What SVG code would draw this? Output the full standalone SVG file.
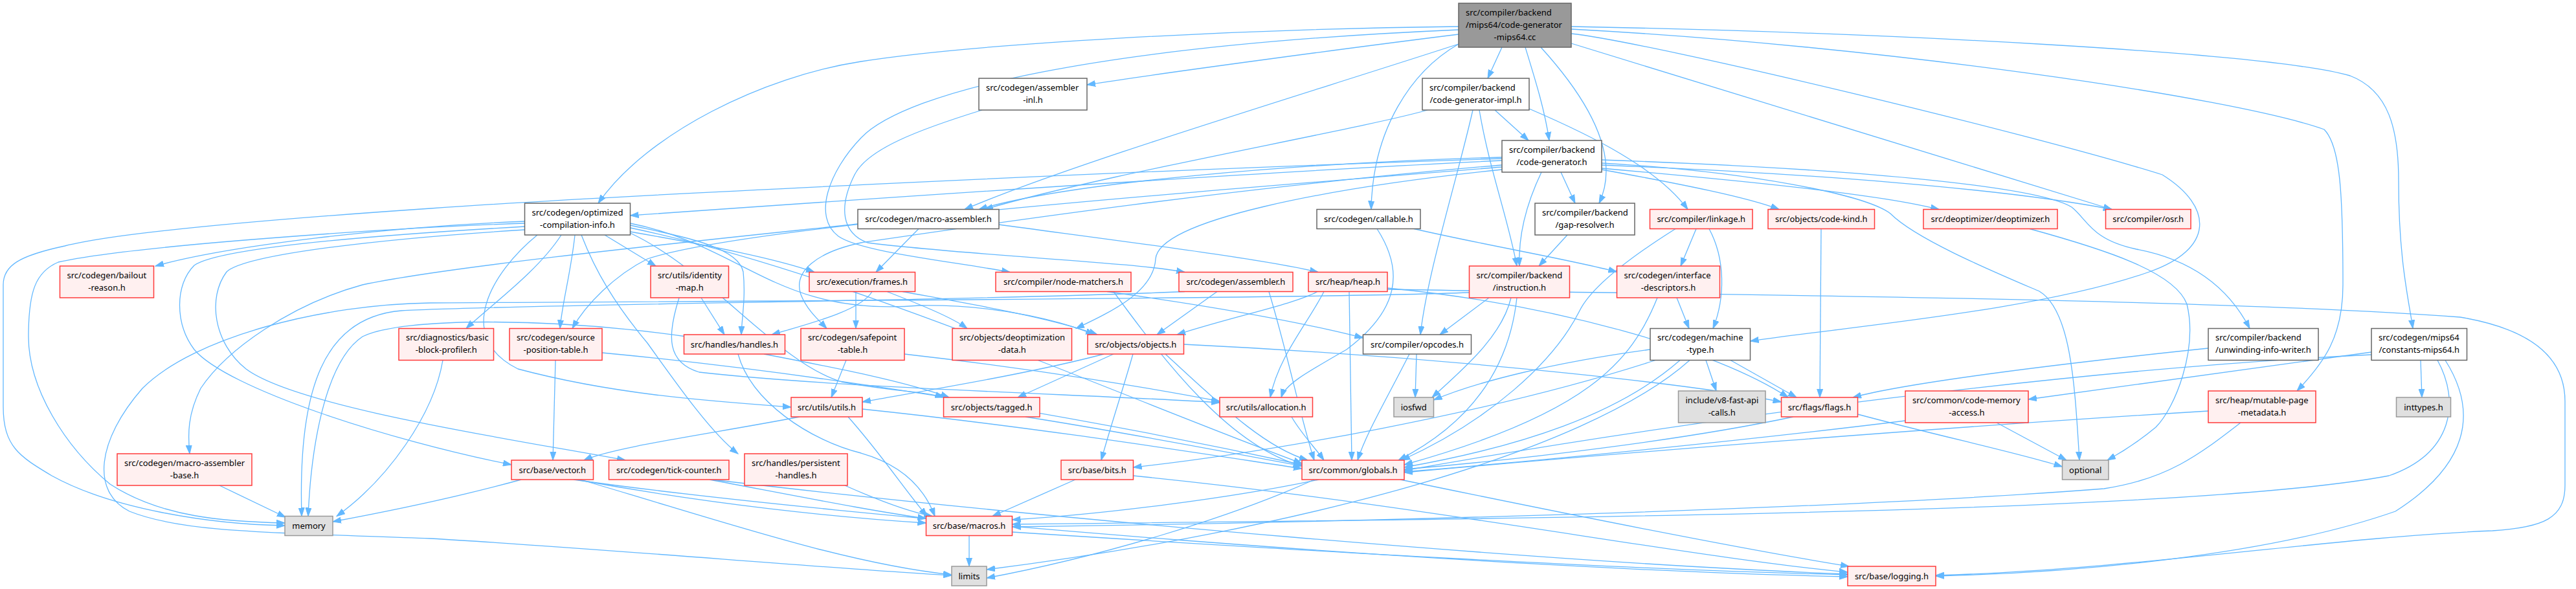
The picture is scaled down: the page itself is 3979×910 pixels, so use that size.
<svg xmlns="http://www.w3.org/2000/svg" width="3979" height="910" viewBox="0 0 3979 910">
<defs>
<marker id="a" markerWidth="14" markerHeight="10" refX="13" refY="5" orient="auto" markerUnits="userSpaceOnUse"><path d="M0,0.5 L13,5 L0,9.5 z" fill="#63B8FF" stroke="#63B8FF" stroke-width="1"/></marker>
<style>
.e path{fill:none;stroke:#63B8FF;stroke-width:1.3;marker-end:url(#a)}
.n rect{stroke-width:1.5}
.w rect{fill:#FFFFFF;stroke:#666666}
.r rect{fill:#FFF0F0;stroke:#FF3B3B}
.g rect{fill:#E0E0E0;stroke:#999999}
.m rect{fill:#999999;stroke:#666666}
text{font-family:"Noto Sans","Liberation Sans",sans-serif;font-size:13px;fill:#000000}
.c{text-anchor:middle}
</style>
</defs>
<rect width="3979" height="910" fill="#FFFFFF"/>
<g id="edges" class="e">
<path d="M2253,53 C2100,72 1800,112 1679,131"/>
<path d="M2253,41 C1900,45 1500,68 1330,95 C1180,118 1000,205 924,314"/>
<path d="M2253,46 C1700,70 1400,140 1330,213 C1280,265 1255,335 1295,365 C1330,390 1480,405 1560,420.5"/>
<path d="M2253,68 C2000,150 1650,255 1490,323.5"/>
<path d="M2320,73 L2298,121"/>
<path d="M2356,73 C2372,125 2386,170 2393,217"/>
<path d="M2380,73 C2450,150 2505,240 2470,314"/>
<path d="M2253,68 C2180,110 2120,200 2118,323.5"/>
<path d="M2427,41 C2900,50 3500,80 3630,117 C3690,140 3705,200 3705,280 C3705,400 3720,460 3727,507.5"/>
<path d="M2427,45 C2900,70 3450,150 3590,200 C3615,225 3619,300 3619,440 C3619,520 3590,560 3548,604"/>
<path d="M2427,67 L3262,323.5"/>
<path d="M2427,52 C2550,65 3150,210 3340,270 C3420,320 3420,385 3320,420 C3150,480 2850,505 2703.5,527"/>
<path d="M2205,170 C2100,200 1700,270 1521,323.5"/>
<path d="M2309,170 L2361,217"/>
<path d="M2285,170 C2300,260 2330,340 2343,411"/>
<path d="M2275,170 C2250,280 2205,420 2194,517"/>
<path d="M2362,168 C2460,210 2560,260 2607,323.5"/>
<path d="M2411,266 L2433,314"/>
<path d="M2381,266 C2360,310 2345,360 2347,411"/>
<path d="M2320,243 C2000,252 1650,282 1512,323.5"/>
<path d="M2320,248 C1900,268 1300,310 973.5,333"/>
<path d="M2320,245 C1700,265 900,305 665,322 C400,340 180,360 100,380 C30,395 5,410 5,440 L5,628 C5,690 30,705 80,735 C170,785 320,810 440,812"/>
<path d="M2320,255 C1900,290 1500,350 1330,375 C1260,390 1225,420 1237,455 C1247,480 1265,495 1277,507.5"/>
<path d="M2320,258 C1800,300 1150,350 1000,400 C950,425 905,470 884,507.5"/>
<path d="M2474,247 C2900,262 3150,290 3200,320 C3225,340 3230,370 3300,385 C3380,400 3440,440 3475,507.5"/>
<path d="M2474,255 C2800,268 3100,292 3262,323.5"/>
<path d="M2474,260 C2700,280 2900,300 2995,323.5"/>
<path d="M2474,262 C2600,285 2700,305 2748,323.5"/>
<path d="M2474,252 C2700,265 2880,300 2920,330 C2960,370 3080,420 3150,450 C3200,480 3205,600 3212,711"/>
<path d="M2320,262 C2050,290 1790,340 1785,400 C1782,450 1720,480 1662,507.5"/>
<path d="M810.5,342 C600,350 350,380 240,411"/>
<path d="M810.5,345 C600,352 200,380 90,405 C55,420 44,450 44,520 C44,600 100,690 170,748 C250,800 350,806 440,808"/>
<path d="M810.5,350 C600,362 340,382 300,410 C270,440 270,500 300,540 C350,600 600,680 790,718"/>
<path d="M810.5,355 C600,368 380,392 350,420 C320,460 330,530 380,570 C460,630 800,680 966,711"/>
<path d="M888,363 C882,420 868,470 865,507.5"/>
<path d="M867,363 C830,420 760,470 720,507.5"/>
<path d="M973.5,352 C1300,420 1700,600 2011,716"/>
<path d="M973.5,358 C1100,380 1200,400 1258,420.5"/>
<path d="M934,363 L1013,411"/>
<path d="M973.5,348 C1050,365 1140,380 1148,420 C1152,460 1146,490 1145,517"/>
<path d="M898,363 C920,420 950,470 1000,530 C1050,600 1100,670 1140,701"/>
<path d="M973.5,345 C1150,380 1200,490 1420,472 C1550,470 1650,500 1690,517"/>
<path d="M973.5,360 C1100,420 1200,560 1300,590 C1380,605 1430,605 1457.5,614"/>
<path d="M830,363 C760,420 700,520 800,570 C950,610 1100,620 1222,629"/>
<path d="M1325,346 C1100,370 700,410 560,440 C450,470 350,540 310,600 C290,640 290,670 293,701"/>
<path d="M1419,353.5 L1353,420.5"/>
<path d="M1543,347 C1750,375 1950,400 2036,420.5"/>
<path d="M2184,353.5 C2300,380 2420,400 2497.5,420"/>
<path d="M2127,353.5 C2170,420 2160,480 2080,540 C2010,580 1985,595 1979,614"/>
<path d="M2421,363 L2377,411"/>
<path d="M2620,353.5 L2596,411"/>
<path d="M2640,353.5 C2665,400 2665,460 2646,507.5"/>
<path d="M2588,353.5 C2530,390 2460,440 2440,480 C2400,560 2300,650 2165,711"/>
<path d="M2590,460 L2609,507.5"/>
<path d="M2560,460 C2520,560 2450,640 2169,718"/>
<path d="M2813,353.5 L2811,614"/>
<path d="M3135,353.5 C3250,385 3360,420 3378,470 C3395,540 3360,630 3330,660 C3300,685 3275,700 3255,711"/>
<path d="M2035,450.5 C2000,470 1900,490 1818,517"/>
<path d="M2045,450.5 C2020,500 1975,550 1962,614"/>
<path d="M2084,450.5 L2088,711"/>
<path d="M2143,445 C2400,470 2650,540 2762,614"/>
<path d="M2143,447 C2600,455 3400,460 3800,490 C3920,510 3962,560 3962,620 L3962,750 C3962,800 3930,815 3850,820 C3600,830 3300,880 2990,889"/>
<path d="M2300,460 L2224,517"/>
<path d="M2334,460 C2320,520 2260,570 2212,614"/>
<path d="M2343,460 C2330,580 2260,660 2160,711"/>
<path d="M2269.5,452 C2000,462 1000,466 665,468 C500,470 300,520 220,600 C150,680 140,760 200,790 C280,822 400,822 665,832 C900,845 1300,880 1470,889"/>
<path d="M1880,450.5 L1787,517"/>
<path d="M1960,450.5 C1990,550 2010,650 2030,711"/>
<path d="M1710,450.5 C1850,470 2000,495 2105.5,522"/>
<path d="M1720,450.5 C1800,560 1900,690 2011,720"/>
<path d="M1322,450.5 L1322,507.5"/>
<path d="M1347,450.5 C1330,480 1250,500 1192,517"/>
<path d="M1370,450.5 C1420,470 1470,490 1494,507.5"/>
<path d="M1394,450.5 C1500,470 1620,490 1695,517"/>
<path d="M1083,460 L1119,517"/>
<path d="M1049,460 C1030,520 1030,560 1080,575 C1300,600 1700,610 1884,622"/>
<path d="M684,556.5 C670,640 600,740 520,797.5"/>
<path d="M858,556.5 L854,711"/>
<path d="M930,545 C1300,580 1700,650 2011,718"/>
<path d="M1180,547 C1300,570 1400,590 1466,614"/>
<path d="M1140,547 C1160,620 1250,680 1330,700 C1400,720 1430,760 1444,797.5"/>
<path d="M1307,556.5 L1284,614"/>
<path d="M1397,547 C1600,570 1780,600 1884,620"/>
<path d="M1720,547 L1572,614"/>
<path d="M1750,547 C1735,600 1715,660 1701,711"/>
<path d="M1705,547 C1600,575 1450,600 1332,621"/>
<path d="M1828.5,532 C2200,550 2600,590 2751.5,621"/>
<path d="M1800,547 C1880,620 1950,690 2020,711"/>
<path d="M2188,547 L2186,614"/>
<path d="M2177,547 C2140,620 2110,670 2097,711"/>
<path d="M2549,540 C2400,560 2280,590 2214.5,618"/>
<path d="M2635,556.5 L2651,604"/>
<path d="M2673,556.5 L2775,614"/>
<path d="M2595,556.5 C2500,640 2350,690 2169,722"/>
<path d="M2557,556.5 C2300,640 1950,700 1750.5,722"/>
<path d="M2610,556.5 C2450,700 2000,820 1524,880"/>
<path d="M3411,538 C3200,560 2950,590 2862,614"/>
<path d="M3663,544 C3450,575 3250,600 3133,617"/>
<path d="M3739,556.5 L3741,614"/>
<path d="M3663,548 C3200,570 2600,650 2169,727"/>
<path d="M3765,556.5 C3800,620 3790,700 3690,735 C3400,790 2500,800 1563.5,810"/>
<path d="M3777,556.5 C3830,640 3810,720 3700,790 C3500,860 3200,885 2990,890"/>
<path d="M3411,635 C3000,660 2500,700 2169,730"/>
<path d="M3461,653 C3400,700 3350,740 3250,755 C2800,790 2000,808 1563.5,814"/>
<path d="M1235,644 C1100,670 950,690 902,711"/>
<path d="M1310,644 C1360,700 1400,760 1432,797.5"/>
<path d="M1332,632 C1600,660 1850,700 2011,724"/>
<path d="M1584,644 C1750,670 1900,700 2011,720"/>
<path d="M1995,644 C2010,670 2030,690 2045,711"/>
<path d="M2869.5,640 C3000,675 3120,700 3185.5,721"/>
<path d="M2770,644 C2600,680 2350,710 2169,725"/>
<path d="M3084,653 L3192,711"/>
<path d="M2943,650 C2700,680 2400,710 2169,729"/>
<path d="M339,750 L441,799"/>
<path d="M805,741 C700,770 600,790 514,806"/>
<path d="M891,741 C1100,780 1300,800 1430.5,808"/>
<path d="M896,741 C1100,800 1300,870 1470,888"/>
<path d="M886,741 C1300,800 2300,880 2854,891"/>
<path d="M1096,741 C1250,770 1350,790 1430.5,801"/>
<path d="M1100,741 C1600,800 2400,870 2854,887"/>
<path d="M1305,750 C1350,770 1400,790 1440,797.5"/>
<path d="M1661,741 L1533,797.5"/>
<path d="M1750.5,735 C2200,780 2600,860 2854,884"/>
<path d="M2037,741 C1900,770 1700,795 1563.5,803"/>
<path d="M2163,741 C2400,790 2700,850 2856,875"/>
<path d="M2030,741 C1900,800 1700,860 1524,893"/>
<path d="M1497,827.5 L1497,875"/>
<path d="M1563.5,822 C2000,850 2500,880 2854,888"/>
<path d="M1517,170 C1420,200 1340,230 1320,270 C1295,320 1300,360 1340,375 C1500,395 1750,405 1830,420.5"/>
<path d="M1830,450.5 C1500,465 800,470 620,480 C500,490 460,600 466,797.5"/>
<path d="M1060,520 C850,490 620,490 560,520 C500,560 480,700 476,797.5"/>
</g>
<g id="main" class="n m"><rect x="2253" y="5" width="174" height="68"/><text x="2264" y="24">src/compiler/backend</text><text x="2264" y="43">/mips64/code-generator</text><text class="c" x="2340" y="62">-mips64.cc</text></g>
<g id="asminl" class="n w"><rect x="1512" y="121" width="167" height="49"/><text x="1523" y="139.5">src/codegen/assembler</text><text class="c" x="1595.5" y="158.5">-inl.h</text></g>
<g id="impl" class="n w"><rect x="2197" y="121" width="165" height="49"/><text x="2208" y="139.5">src/compiler/backend</text><text class="c" x="2279.5" y="158.5">/code-generator-impl.h</text></g>
<g id="cg" class="n w"><rect x="2320" y="217" width="154" height="49"/><text x="2331" y="235.5">src/compiler/backend</text><text class="c" x="2397" y="254.5">/code-generator.h</text></g>
<g id="oci" class="n w"><rect x="810.5" y="314" width="163" height="49"/><text x="821.5" y="332.5">src/codegen/optimized</text><text class="c" x="892" y="351.5">-compilation-info.h</text></g>
<g id="masm" class="n w"><rect x="1325" y="323.5" width="218" height="30"/><text class="c" x="1434" y="343">src/codegen/macro-assembler.h</text></g>
<g id="callable" class="n w"><rect x="2034" y="323.5" width="160" height="30"/><text class="c" x="2114" y="343">src/codegen/callable.h</text></g>
<g id="gap" class="n w"><rect x="2371" y="314" width="154" height="49"/><text x="2382" y="332.5">src/compiler/backend</text><text class="c" x="2448" y="351.5">/gap-resolver.h</text></g>
<g id="linkage" class="n r"><rect x="2548.5" y="323.5" width="158.5" height="30"/><text class="c" x="2627.75" y="343">src/compiler/linkage.h</text></g>
<g id="codekind" class="n r"><rect x="2731" y="323.5" width="164.5" height="30"/><text class="c" x="2813.25" y="343">src/objects/code-kind.h</text></g>
<g id="deopt" class="n r"><rect x="2971" y="323.5" width="207" height="30"/><text class="c" x="3074.5" y="343">src/deoptimizer/deoptimizer.h</text></g>
<g id="osr" class="n r"><rect x="3252.5" y="323.5" width="131.5" height="30"/><text class="c" x="3318.25" y="343">src/compiler/osr.h</text></g>
<g id="bailout" class="n r"><rect x="92.5" y="411" width="145" height="49"/><text x="103.5" y="429.5">src/codegen/bailout</text><text class="c" x="165" y="448.5">-reason.h</text></g>
<g id="idmap" class="n r"><rect x="1005" y="411" width="120.5" height="49"/><text x="1016" y="429.5">src/utils/identity</text><text class="c" x="1065.25" y="448.5">-map.h</text></g>
<g id="frames" class="n r"><rect x="1250" y="420.5" width="163.5" height="30"/><text class="c" x="1331.75" y="440">src/execution/frames.h</text></g>
<g id="nodematch" class="n r"><rect x="1538" y="420.5" width="209" height="30"/><text class="c" x="1642.5" y="440">src/compiler/node-matchers.h</text></g>
<g id="asm" class="n r"><rect x="1821" y="420.5" width="176" height="30"/><text class="c" x="1909" y="440">src/codegen/assembler.h</text></g>
<g id="heap" class="n r"><rect x="2021" y="420.5" width="122" height="30"/><text class="c" x="2082" y="440">src/heap/heap.h</text></g>
<g id="instr" class="n r"><rect x="2269.5" y="411" width="155" height="49"/><text x="2280.5" y="429.5">src/compiler/backend</text><text class="c" x="2347" y="448.5">/instruction.h</text></g>
<g id="ifdesc" class="n r"><rect x="2497.5" y="411" width="159" height="49"/><text x="2508.5" y="429.5">src/codegen/interface</text><text class="c" x="2577" y="448.5">-descriptors.h</text></g>
<g id="bbp" class="n r"><rect x="616" y="507.5" width="146.5" height="49"/><text x="627" y="526">src/diagnostics/basic</text><text class="c" x="689.25" y="545">-block-profiler.h</text></g>
<g id="spt" class="n r"><rect x="787" y="507.5" width="143" height="49"/><text x="798" y="526">src/codegen/source</text><text class="c" x="858.5" y="545">-position-table.h</text></g>
<g id="handles" class="n r"><rect x="1056.5" y="517" width="156" height="30"/><text class="c" x="1134.5" y="536.5">src/handles/handles.h</text></g>
<g id="safept" class="n r"><rect x="1237" y="507.5" width="160" height="49"/><text x="1248" y="526">src/codegen/safepoint</text><text class="c" x="1317" y="545">-table.h</text></g>
<g id="deoptdata" class="n r"><rect x="1471" y="507.5" width="184.5" height="49"/><text x="1482" y="526">src/objects/deoptimization</text><text class="c" x="1563.25" y="545">-data.h</text></g>
<g id="objects" class="n r"><rect x="1680" y="517" width="148.5" height="30"/><text class="c" x="1754.25" y="536.5">src/objects/objects.h</text></g>
<g id="opcodes" class="n w"><rect x="2105.5" y="517" width="167" height="30"/><text class="c" x="2189" y="536.5">src/compiler/opcodes.h</text></g>
<g id="mtype" class="n w"><rect x="2549" y="507.5" width="154.5" height="49"/><text x="2560" y="526">src/codegen/machine</text><text class="c" x="2626.25" y="545">-type.h</text></g>
<g id="unwind" class="n w"><rect x="3411" y="507.5" width="170" height="49"/><text x="3422" y="526">src/compiler/backend</text><text class="c" x="3496" y="545">/unwinding-info-writer.h</text></g>
<g id="consts" class="n w"><rect x="3663" y="507.5" width="147.5" height="49"/><text x="3674" y="526">src/codegen/mips64</text><text class="c" x="3736.75" y="545">/constants-mips64.h</text></g>
<g id="utils" class="n r"><rect x="1222" y="614" width="110" height="30"/><text class="c" x="1277" y="633.5">src/utils/utils.h</text></g>
<g id="tagged" class="n r"><rect x="1457.5" y="614" width="148.5" height="30"/><text class="c" x="1531.75" y="633.5">src/objects/tagged.h</text></g>
<g id="alloc" class="n r"><rect x="1884" y="614" width="143.5" height="30"/><text class="c" x="1955.75" y="633.5">src/utils/allocation.h</text></g>
<g id="iosfwd" class="n g"><rect x="2153" y="614" width="61.5" height="30"/><text class="c" x="2183.75" y="633.5">iosfwd</text></g>
<g id="fastapi" class="n g"><rect x="2592.5" y="604" width="134.5" height="49"/><text x="2603.5" y="622.5">include/v8-fast-api</text><text class="c" x="2659.75" y="641.5">-calls.h</text></g>
<g id="flags" class="n r"><rect x="2751.5" y="614" width="118" height="30"/><text class="c" x="2810.5" y="633.5">src/flags/flags.h</text></g>
<g id="cma" class="n r"><rect x="2943" y="604" width="190" height="49"/><text x="2954" y="622.5">src/common/code-memory</text><text class="c" x="3038" y="641.5">-access.h</text></g>
<g id="mpm" class="n r"><rect x="3411" y="604" width="166" height="49"/><text x="3422" y="622.5">src/heap/mutable-page</text><text class="c" x="3494" y="641.5">-metadata.h</text></g>
<g id="inttypes" class="n g"><rect x="3701.5" y="614" width="84" height="30"/><text class="c" x="3743.5" y="633.5">inttypes.h</text></g>
<g id="masmbase" class="n r"><rect x="181" y="701" width="208" height="49"/><text x="192" y="719.5">src/codegen/macro-assembler</text><text class="c" x="285" y="738.5">-base.h</text></g>
<g id="vector" class="n r"><rect x="790" y="711" width="126.5" height="30"/><text class="c" x="853.25" y="730.5">src/base/vector.h</text></g>
<g id="tick" class="n r"><rect x="940.5" y="711" width="185.5" height="30"/><text class="c" x="1033.25" y="730.5">src/codegen/tick-counter.h</text></g>
<g id="phandles" class="n r"><rect x="1150" y="701" width="159" height="49"/><text x="1161" y="719.5">src/handles/persistent</text><text class="c" x="1229.5" y="738.5">-handles.h</text></g>
<g id="bits" class="n r"><rect x="1639" y="711" width="111.5" height="30"/><text class="c" x="1694.75" y="730.5">src/base/bits.h</text></g>
<g id="globals" class="n r"><rect x="2011" y="711" width="158" height="30"/><text class="c" x="2090" y="730.5">src/common/globals.h</text></g>
<g id="optional" class="n g"><rect x="3185.5" y="711" width="71.5" height="30"/><text class="c" x="3221.25" y="730.5">optional</text></g>
<g id="memory" class="n g"><rect x="440" y="797.5" width="74" height="30"/><text class="c" x="477" y="817">memory</text></g>
<g id="macros" class="n r"><rect x="1430.5" y="797.5" width="133" height="30"/><text class="c" x="1497" y="817">src/base/macros.h</text></g>
<g id="limits" class="n g"><rect x="1470" y="875" width="54" height="30"/><text class="c" x="1497" y="894.5">limits</text></g>
<g id="logging" class="n r"><rect x="2854" y="875" width="136" height="30"/><text class="c" x="2922" y="894.5">src/base/logging.h</text></g>
</svg>
